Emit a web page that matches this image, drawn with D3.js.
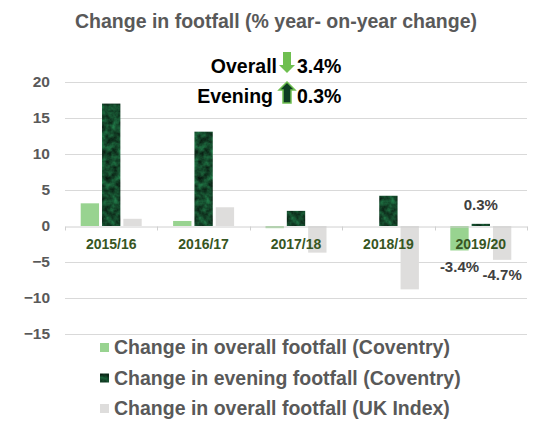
<!DOCTYPE html>
<html>
<head>
<meta charset="utf-8">
<script src="https://cdn.jsdelivr.net/npm/d3@7"></script>
<style>
  body { margin: 0; background: #fff; }
  text { font-family: "Liberation Sans", Arial, sans-serif; font-weight: bold; }
</style>
</head>
<body>
<div id="chart"></div>
<script>
// data
const years = ['2015/16', '2016/17', '2017/18', '2018/19', '2019/20'];
const overall = [3.15, 0.7, -0.3, 0, -3.4];
const evening = [17.0, 13.1, 2.1, 4.2, 0.3];
const ukIndex = [1.0, 2.6, -3.7, -8.8, -4.7];
const seriesNames = ['Change in overall footfall (Coventry)',
                     'Change in evening footfall (Coventry)',
                     'Change in overall footfall (UK Index)'];
const yTicks = [20, 15, 10, 5, 0, -5, -10, -15];

var width = 535, height = 423;
var margin = { left: 65, right: 8, top: 82, bottom: 89 };

var svg = d3.select('#chart').append('svg')
    .attr('width', width)
    .attr('height', height);

// mottled texture for the evening bars
var defs = svg.append('defs');
var filt = defs.append('filter').attr('id', 'marble')
    .attr('color-interpolation-filters', 'sRGB')
    .attr('x', 0).attr('y', 0).attr('width', 1).attr('height', 1);
filt.append('feTurbulence')
    .attr('type', 'fractalNoise').attr('baseFrequency', 0.16)
    .attr('numOctaves', 3).attr('seed', 7).attr('result', 'noise');
filt.append('feColorMatrix').attr('in', 'noise').attr('type', 'matrix')
    .attr('values', '0.14 0 0 0 0.01  0.55 0 0 0 0.01  0.32 0 0 0 0.01  0 0 0 0 1')
    .attr('result', 'tint');
filt.append('feComposite').attr('in', 'tint').attr('in2', 'SourceGraphic').attr('operator', 'in');

var colors = ['#98d390', '#104a2a', '#dedddc'];

var x0 = d3.scaleBand().domain(years).range([margin.left, width - margin.right]);
var x1 = d3.scaleBand().domain(d3.range(3)).range([0, 61]).paddingInner(0.14);
var y = d3.scaleLinear().domain([-15, 20]).range([height - margin.bottom, margin.top]);

// title
svg.append('text')
    .attr('x', 276).attr('y', 28)
    .attr('text-anchor', 'middle')
    .style('font-size', '19.5px').style('fill', '#595959')
    .text('Change in footfall (% year- on-year change)');

// gridlines
svg.append('g').selectAll('line')
    .data(yTicks.filter(d => d !== 0))
  .enter().append('line')
    .attr('x1', margin.left).attr('x2', width - margin.right)
    .attr('y1', d => Math.round(y(d)) + 0.5).attr('y2', d => Math.round(y(d)) + 0.5)
    .style('stroke', '#d9d9d9');

// y axis labels
var yAxis = svg.append('g')
    .attr('transform', 'translate(' + (margin.left - 15) + ',0)')
    .call(d3.axisLeft(y).tickValues(yTicks).tickSize(0).tickPadding(0));
yAxis.select('.domain').remove();
yAxis.selectAll('text')
    .style('font-size', '15.5px').style('fill', '#595959')
    .style('font-family', '"Liberation Sans", Arial, sans-serif');

// bars
var groups = svg.append('g').selectAll('g')
    .data(years)
  .enter().append('g')
    .attr('transform', d => 'translate(' + (x0(d) + (x0.bandwidth() - 61) / 2) + ',0)');

var allSeries = [overall, evening, ukIndex];
groups.selectAll('rect')
    .data((d, i) => allSeries.map((s, k) => ({ k: k, v: s[i] })))
  .enter().append('rect')
    .attr('x', d => x1(d.k))
    .attr('width', x1.bandwidth())
    .attr('y', d => y(Math.max(0, d.v)))
    .attr('height', d => Math.abs(y(d.v) - y(0)))
    .style('fill', d => colors[d.k])
    .attr('filter', d => d.k === 1 ? 'url(#marble)' : null);

// zero line with category ticks
var xAxis = svg.append('g')
    .attr('transform', 'translate(0,' + (Math.round(y(0)) + 0.5) + ')')
    .call(d3.axisBottom(x0).tickSize(0).tickPadding(13));
xAxis.select('.domain').style('stroke', '#d0d0d0');
xAxis.selectAll('text')
    .style('font-size', '14px').style('fill', '#375623')
    .style('font-family', '"Liberation Sans", Arial, sans-serif');
xAxis.selectAll('.sep')
    .data(d3.range(years.length + 1))
  .enter().append('line')
    .attr('class', 'sep')
    .attr('x1', i => Math.round(margin.left + i * x0.step()) + 0.5)
    .attr('x2', i => Math.round(margin.left + i * x0.step()) + 0.5)
    .attr('y1', 0).attr('y2', 4)
    .style('stroke', '#d0d0d0');

// data labels on 2019/20
var last = years[years.length - 1];
var gx = x0(last) + (x0.bandwidth() - 61) / 2;
var labels = [
  { k: 1, v: evening[4], dy: -14 },
  { k: 0, v: overall[4], dy: 22 },
  { k: 2, v: ukIndex[4], dy: 20 }
];
svg.append('g').selectAll('text')
    .data(labels)
  .enter().append('text')
    .attr('x', d => gx + x1(d.k) + x1.bandwidth() / 2)
    .attr('y', d => y(d.v) + d.dy)
    .attr('text-anchor', 'middle')
    .style('font-size', '15px').style('fill', '#404040')
    .text(d => (d.v < 0 ? '-' : '') + Math.abs(d.v).toFixed(1) + '%');

// headline annotation
function arrow(g, cx, top, h, up, fill, stroke) {
  var w = 16, hw = 4, head = 8;
  var pts = up
    ? [[0, 0], [w / 2, head], [hw, head], [hw, h], [-hw, h], [-hw, head], [-w / 2, head]]
    : [[-hw, 0], [hw, 0], [hw, h - head], [w / 2, h - head], [0, h], [-w / 2, h - head], [-hw, h - head]];
  g.append('path')
    .attr('d', d3.line()(pts.map(p => [cx + p[0], top + p[1]])) + 'Z')
    .style('fill', fill).style('stroke', stroke).style('stroke-width', stroke ? 1.5 : 0);
}
var ann = svg.append('g');
ann.append('text').attr('x', 277).attr('y', 73).attr('text-anchor', 'end')
    .style('font-size', '19.5px').style('fill', '#000').text('Overall');
ann.append('text').attr('x', 297).attr('y', 73)
    .style('font-size', '19.5px').style('fill', '#000')
    .text(Math.abs(overall[4]).toFixed(1) + '%');
arrow(ann, 287, 52, 21, false, '#6fbf50', null);
ann.append('text').attr('x', 273).attr('y', 103).attr('text-anchor', 'end')
    .style('font-size', '19.5px').style('fill', '#000').text('Evening');
ann.append('text').attr('x', 297).attr('y', 103)
    .style('font-size', '19.5px').style('fill', '#000')
    .text(evening[4].toFixed(1) + '%');
arrow(ann, 287, 82, 21, true, '#0e3d22', '#6fbf50');

// legend
var legend = svg.append('g').selectAll('g')
    .data(seriesNames)
  .enter().append('g')
    .attr('transform', (d, i) => 'translate(100,' + (347 + i * 30.5) + ')');
legend.append('rect')
    .attr('x', 0).attr('y', -4).attr('width', 9).attr('height', 9)
    .style('fill', (d, i) => colors[i])
    .attr('filter', (d, i) => i === 1 ? 'url(#marble)' : null);
legend.append('text')
    .attr('x', 14).attr('y', 7)
    .style('font-size', '19.5px').style('fill', '#595959')
    .text(d => d);
</script>
</body>
</html>
